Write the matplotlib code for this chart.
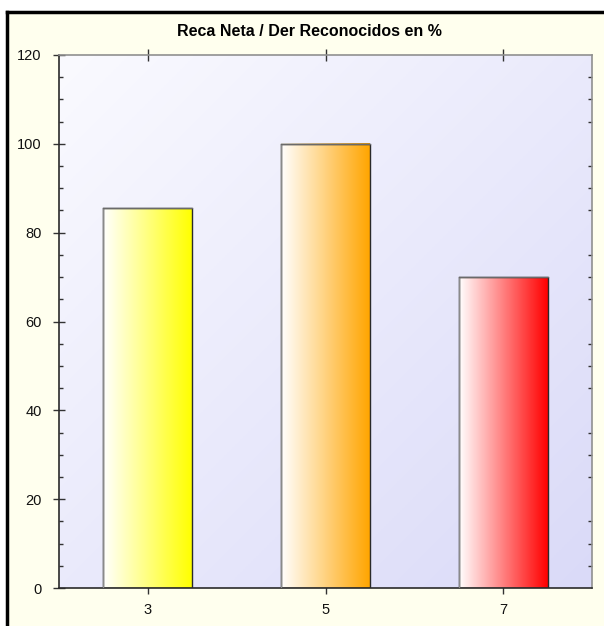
import numpy as np
import matplotlib
matplotlib.use("Agg")
import matplotlib.pyplot as plt
from matplotlib.colors import LinearSegmentedColormap
from matplotlib.ticker import MultipleLocator
from matplotlib.lines import Line2D

plt.rcParams['font.family'] = ['Liberation Sans', 'DejaVu Sans']

categories = ["3", "5", "7"]
values = [85.5, 100.0, 70.0]
bar_colors = ["#FFFF00", "#FFA500", "#FF0000"]
title = "Reca Neta / Der Reconocidos en %"

fig = plt.figure(figsize=(6.04, 6.26), dpi=100, facecolor="#FFFFEE")
ax = fig.add_axes([59 / 604, 1 - 588 / 626, 533 / 604, 533 / 626])

x = np.arange(len(categories))

# plot-area background: soft diagonal lavender gradient (light top-left)
gx, gy = np.meshgrid(np.linspace(0, 1, 200), np.linspace(0, 1, 200))
g = (gx + gy) / 2.0
bg_cmap = LinearSegmentedColormap.from_list("bg", ["#FAFAFF", "#DADAF8"])
ax.imshow(g, cmap=bg_cmap, extent=[0, 1, 0, 1], transform=ax.transAxes,
          aspect="auto", origin="upper", zorder=0, interpolation="bilinear")

bars = ax.bar(x, values, width=0.5, facecolor="none", edgecolor="#2a2a2a",
              linewidth=1.0, zorder=3)

# horizontal white-to-colour gradient inside each bar
ramp = np.linspace(0, 1, 256).reshape(1, -1)
for patch, col in zip(bars.patches, bar_colors):
    cmap = LinearSegmentedColormap.from_list("b", ["#FFFFFF", col])
    x0 = patch.get_x()
    w = patch.get_width()
    h = patch.get_height()
    ax.imshow(ramp, cmap=cmap, extent=[x0, x0 + w, 0, h], aspect="auto",
              zorder=2, interpolation="bilinear")
    ax.plot([x0, x0], [0, h], color="#8a8a8a", lw=1.0, zorder=4)
    ax.plot([x0, x0 + w], [h, h], color="#6a6a6a", lw=1.0, zorder=4)

ax.set_xlim(-0.5, len(categories) - 0.5)
ax.set_ylim(0, 120)

ax.set_xticks(x)
ax.set_xticklabels(categories)
ax.yaxis.set_major_locator(MultipleLocator(20))
ax.yaxis.set_minor_locator(MultipleLocator(5))

ax.tick_params(axis="y", which="major", direction="inout", length=9, width=1,
               color="#333333", labelsize=10.5, pad=8, labelcolor="#111111")
ax.tick_params(axis="y", which="minor", direction="inout", length=5, width=1,
               color="#333333")
ax.tick_params(axis="y", which="minor", right=True, direction="in", length=3)
ax.tick_params(axis="x", which="major", direction="inout", length=9, width=1,
               color="#333333", labelsize=10.5, pad=6, labelcolor="#111111",
               top=True)

for s in ("left", "bottom"):
    ax.spines[s].set_color("#2a2a2a")
    ax.spines[s].set_linewidth(1.2)
for s in ("top", "right"):
    ax.spines[s].set_color("#909090")
    ax.spines[s].set_linewidth(1.2)

fig.text(309 / 604, 1 - 32 / 626, title, ha="center", va="center",
         fontsize=11.5, fontweight="bold", color="#000000")

# outer frame (top and left edges)
fig.add_artist(Line2D([7 / 604, 1], [1 - 12 / 626, 1 - 12 / 626],
                      transform=fig.transFigure, color="black", lw=2.5))
fig.add_artist(Line2D([7 / 604, 7 / 604], [0, 1 - 12 / 626],
                      transform=fig.transFigure, color="black", lw=2.5))
fig.patches.append(plt.Rectangle((0, 1 - 11 / 626), 1, 11 / 626,
                                 transform=fig.transFigure, color="white",
                                 zorder=-1))
fig.patches.append(plt.Rectangle((0, 0), 6 / 604, 1,
                                 transform=fig.transFigure, color="white",
                                 zorder=-1))

fig.savefig("out.png", dpi=100, facecolor=fig.get_facecolor())
